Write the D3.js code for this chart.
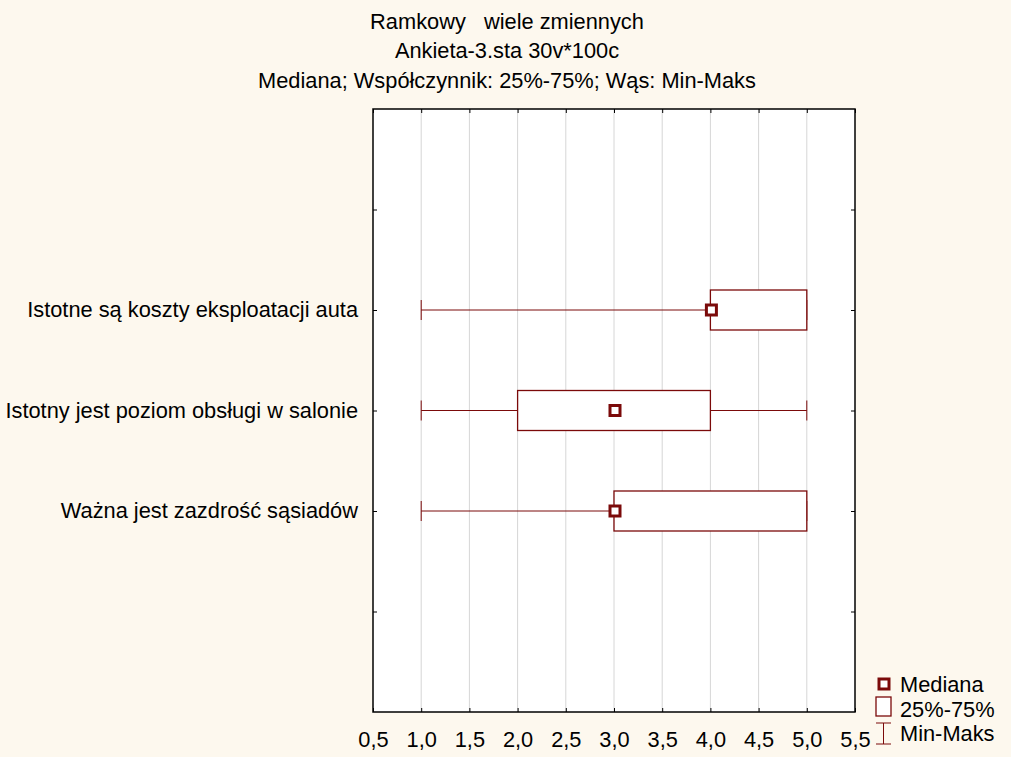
<!DOCTYPE html>
<html>
<head>
<meta charset="utf-8">
<script src="https://cdn.jsdelivr.net/npm/d3@7"></script>
<style>
  body { margin: 0; background: #fdf8ee; }
  svg { display: block; font-family: "Liberation Sans", Arial, sans-serif; }
</style>
</head>
<body>
<div id="chart"></div>
<script>
var width = 1011, height = 757;

// data
var categories = ["Istotne są koszty eksploatacji auta", "Istotny jest poziom obsługi w salonie", "Ważna jest zazdrość sąsiadów"];
var mins = [1, 1, 1];
var q1s = [4, 2, 3];
var medians = [4, 3, 3];
var q3s = [5, 4, 5];
var maxs = [5, 5, 5];
var xTicks = [0.5, 1, 1.5, 2, 2.5, 3, 3.5, 4, 4.5, 5, 5.5];
var titleLines = ["Ramkowy   wiele zmiennych", "Ankieta-3.sta 30v*100c", "Mediana; Współczynnik: 25%-75%; Wąs: Min-Maks"];
var legendItems = ["Mediana", "25%-75%", "Min-Maks"];

var rows = categories.map(function(c, i) {
  return {name: c, min: mins[i], q1: q1s[i], med: medians[i], q3: q3s[i], max: maxs[i]};
});

var dark = "#7b0a0a";
var fs = "21.8px";
var margin = {left: 373, right: 1011 - 855, top: 109, bottom: 757 - 712};
var iw = width - margin.left - margin.right,
    ih = height - margin.top - margin.bottom;

var svg = d3.select("#chart").append("svg")
  .attr("width", width)
  .attr("height", height);

// title
svg.append("g").selectAll("text")
  .data(titleLines)
  .enter().append("text")
  .attr("x", 507)
  .attr("y", function(d, i) { return 29 + i * 29.3; })
  .attr("text-anchor", "middle")
  .style("font-size", fs)
  .style("white-space", "pre")
  .attr("xml:space", "preserve")
  .text(function(d) { return d; });

var g = svg.append("g")
  .attr("transform", "translate(" + margin.left + "," + margin.top + ")");

var x = d3.scaleLinear().domain([0.5, 5.5]).range([0, iw]);
// 5 slots: empty, three categories, empty
var yKeys = ["_top"].concat(categories).concat(["_bot"]);
var y = d3.scalePoint().domain(yKeys).range([0, ih]).padding(1);

g.append("rect")
  .attr("width", iw)
  .attr("height", ih)
  .style("fill", "white");

// grid
g.selectAll(".grid")
  .data(xTicks.slice(1, -1))
  .enter().append("line")
  .attr("class", "grid")
  .attr("x1", function(d) { return x(d); })
  .attr("x2", function(d) { return x(d); })
  .attr("y1", 0)
  .attr("y2", ih)
  .style("stroke", "#d6d6d6")
  .style("stroke-width", 1);

// axes, ticks pointing inward
var fmt = function(d) { return d3.format(".1f")(d).replace(".", ","); };

g.append("g")
  .attr("transform", "translate(0," + ih + ")")
  .call(d3.axisBottom(x).tickValues(xTicks).tickFormat(fmt).tickSizeInner(-4).tickSizeOuter(0).tickPadding(20));
g.append("g")
  .call(d3.axisTop(x).tickValues(xTicks).tickFormat("").tickSizeInner(-4).tickSizeOuter(0));

g.append("g")
  .call(d3.axisLeft(y).tickFormat(function(d) { return d.charAt(0) === "_" ? "" : d; })
    .tickSizeInner(-4).tickSizeOuter(0).tickPadding(15));
g.append("g")
  .attr("transform", "translate(" + iw + ",0)")
  .call(d3.axisRight(y).tickFormat("").tickSizeInner(-4).tickSizeOuter(0));

g.selectAll(".domain").remove();
g.selectAll(".tick line").style("stroke", "#000");
g.selectAll(".tick text").style("font-size", fs).style("fill", "#000").style("font-family", "Liberation Sans, Arial, sans-serif");

g.append("rect")
  .attr("width", iw)
  .attr("height", ih)
  .style("fill", "none")
  .style("stroke", "#000")
  .style("stroke-width", 1.5);

// boxes
var bh = 40, cap = 10;
var box = g.selectAll(".box")
  .data(rows)
  .enter().append("g")
  .attr("class", "box")
  .attr("transform", function(d) { return "translate(0," + y(d.name) + ")"; });

box.append("line")
  .attr("x1", function(d) { return x(d.min); })
  .attr("x2", function(d) { return x(d.q1); })
  .style("stroke", dark);
box.append("line")
  .attr("x1", function(d) { return x(d.q3); })
  .attr("x2", function(d) { return x(d.max); })
  .style("stroke", dark);
box.append("line")
  .attr("x1", function(d) { return x(d.min); })
  .attr("x2", function(d) { return x(d.min); })
  .attr("y1", -cap).attr("y2", cap)
  .style("stroke", dark);
box.append("line")
  .attr("x1", function(d) { return x(d.max); })
  .attr("x2", function(d) { return x(d.max); })
  .attr("y1", -cap).attr("y2", cap)
  .style("stroke", dark);
box.append("rect")
  .attr("x", function(d) { return x(d.q1); })
  .attr("y", -bh / 2)
  .attr("width", function(d) { return x(d.q3) - x(d.q1); })
  .attr("height", bh)
  .style("fill", "white")
  .style("stroke", dark)
  .style("stroke-width", 1.3);
box.append("rect")
  .attr("x", function(d) { return x(d.med) - 4; })
  .attr("y", -5)
  .attr("width", 10)
  .attr("height", 10)
  .style("fill", "white")
  .style("stroke", dark)
  .style("stroke-width", 3);

// legend
var lg = svg.append("g");
lg.append("rect")
  .attr("x", 879).attr("y", 679).attr("width", 10).attr("height", 10)
  .style("fill", "white").style("stroke", dark).style("stroke-width", 3);
lg.append("rect")
  .attr("x", 876).attr("y", 697).attr("width", 15).attr("height", 19)
  .style("fill", "white").style("stroke", dark).style("stroke-width", 1.3);
lg.append("line").attr("x1", 883.5).attr("x2", 883.5).attr("y1", 723).attr("y2", 744).style("stroke", dark);
lg.append("line").attr("x1", 876).attr("x2", 891).attr("y1", 723).attr("y2", 723).style("stroke", dark);
lg.append("line").attr("x1", 876).attr("x2", 891).attr("y1", 744).attr("y2", 744).style("stroke", dark);
lg.selectAll("text")
  .data(legendItems)
  .enter().append("text")
  .attr("x", 900)
  .attr("y", function(d, i) { return 692 + i * 24.5; })
  .style("font-size", fs)
  .text(function(d) { return d; });
</script>
</body>
</html>
